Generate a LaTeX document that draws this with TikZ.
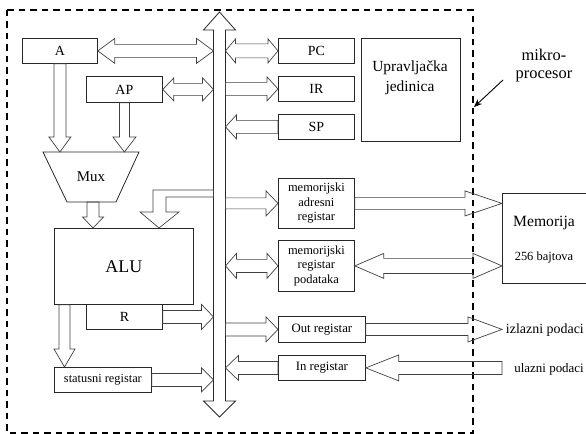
\documentclass[tikz,border=0pt]{standalone}
\usepackage{fontspec}
\setmainfont{Liberation Serif}
\usetikzlibrary{calc,arrows.meta}
\tikzset{
  box/.style={draw=black!85, line width=0.8bp, inner sep=0pt, anchor=north west},
  fat/.style={draw=black!75, line width=0.7bp, line join=miter},
  f14/.style={font=\fontsize{14}{16}\selectfont},
  f12/.style={font=\fontsize{12.5}{14.5}\selectfont, align=center},
}
% horizontal double-headed fat arrow: #1 left pt, #2 right pt, #3 y pt, #4 shaft half, #5 head half, #6 head length
\newcommand\harrB[6]{\draw[fat] let \p1=#1,\p2=#2,\p3=#3 in
  (\x1,\y3) -- (\x1+#6,\y3+#5) -- (\x1+#6,\y3+#4) -- (\x2-#6,\y3+#4) -- (\x2-#6,\y3+#5) -- (\x2,\y3)
  -- (\x2-#6,\y3-#5) -- (\x2-#6,\y3-#4) -- (\x1+#6,\y3-#4) -- (\x1+#6,\y3-#5) -- cycle;}
% pointing right: tail #1, tip #2
\newcommand\harrR[6]{\draw[fat] let \p1=#1,\p2=#2,\p3=#3 in
  (\x1,\y3+#4) -- (\x2-#6,\y3+#4) -- (\x2-#6,\y3+#5) -- (\x2,\y3) -- (\x2-#6,\y3-#5) -- (\x2-#6,\y3-#4) -- (\x1,\y3-#4) -- cycle;}
% pointing left: tip #1, tail #2
\newcommand\harrL[6]{\draw[fat] let \p1=#1,\p2=#2,\p3=#3 in
  (\x2,\y3+#4) -- (\x1+#6,\y3+#4) -- (\x1+#6,\y3+#5) -- (\x1,\y3) -- (\x1+#6,\y3-#5) -- (\x1+#6,\y3-#4) -- (\x2,\y3-#4) -- cycle;}
% pointing down: top #1, tip #2, x #3
\newcommand\varrD[6]{\draw[fat] let \p1=#1,\p2=#2,\p3=#3 in
  (\x3-#4,\y1) -- (\x3-#4,\y2+#6) -- (\x3-#5,\y2+#6) -- (\x3,\y2) -- (\x3+#5,\y2+#6) -- (\x3+#4,\y2+#6) -- (\x3+#4,\y1) -- cycle;}

\begin{document}
\begin{tikzpicture}[x=1bp,y=-1bp]
\useasboundingbox (0,0) rectangle (586,434);

% microprocessor border
\draw[line width=1.2bp, dash pattern=on 6.5bp off 5bp] (7,10) rectangle (473,433);

% boxes
\node[box, minimum width=75bp, minimum height=25bp, f14] (A) at (22,38) {A};
\node[box, minimum width=76bp, minimum height=26bp, f14] (AP) at (86,76) {AP};
\node[box, minimum width=76bp, minimum height=25bp, f14] (PC) at (278,38) {PC};
\node[box, minimum width=76bp, minimum height=25bp, f14] (IR) at (278,76) {IR};
\node[box, minimum width=76bp, minimum height=25bp, f14] (SP) at (278,114) {SP};
\node[box, minimum width=99bp, minimum height=103bp] (CU) at (361,38) {};
\node[font=\fontsize{15.5}{20}\selectfont, align=center] (CUt) at (410,78) {Upravljačka\\jedinica};
\node[box, minimum width=139bp, minimum height=76bp, font=\fontsize{18}{20}\selectfont] (ALU) at (54,228) {ALU};
\node[box, minimum width=76bp, minimum height=25bp, f14] (R) at (86,304) {R};
\node[box, minimum width=97bp, minimum height=25bp, font=\fontsize{12.4}{14}\selectfont] (stat) at (54,367) {statusni registar};
\node[box, minimum width=76bp, minimum height=50bp, f12] (MAR) at (278,178) {memorijski\\adresni\\registar};
\node[box, minimum width=76bp, minimum height=51bp, f12] (MRP) at (278,240) {memorijski\\registar\\podataka};
\node[box, minimum width=87bp, minimum height=26bp, font=\fontsize{12.8}{14}\selectfont] (Out) at (278,316) {Out registar};
\node[box, minimum width=87bp, minimum height=25bp, font=\fontsize{12.8}{14}\selectfont] (In) at (278,355) {In registar};
\node[box, minimum width=90bp, minimum height=90bp] (Mem) at (502,193) {};
\node[font=\fontsize{15.7}{18}\selectfont] (MemT) at (544,223) {Memorija};
\node[font=\fontsize{12.5}{14}\selectfont] (MemS) at (544,258) {256 bajtova};

% Mux
\coordinate (muxTL) at (43,152);
\coordinate (muxTR) at (139,152);
\coordinate (muxBR) at (116,202);
\coordinate (muxBL) at (67,202);
\coordinate (muxB) at (93,202);
\draw[draw=black!85, line width=0.8bp] (muxTL) -- (muxTR) -- (muxBR) -- (muxBL) -- cycle;
\node[font=\fontsize{15}{17}\selectfont] (mux) at (91,177) {Mux};

% bus
\coordinate (busTop) at (219.5,12);
\coordinate (busBot) at (219.5,417);
\coordinate (busL) at (213.5,0);
\coordinate (busR) at (225.5,0);
\draw[fat, draw=black!85, line width=0.8bp] let \p1=(busTop),\p2=(busBot) in
  (\x1,\y1) -- (\x1+16bp,\y1-18bp) -- (\x1+6bp,\y1-18bp) -- (\x1+6bp,\y2+16bp) -- (\x1+16bp,\y2+16bp) -- (\x2,\y2)
  -- (\x1-16bp,\y2+16bp) -- (\x1-6bp,\y2+16bp) -- (\x1-6bp,\y1-18bp) -- (\x1-16bp,\y1-18bp) -- cycle;

% vertical arrows
\varrD{(A.south)}{(muxTL)}{(A.south)}{6bp}{11bp}{15bp}
\varrD{(AP.south)}{(muxTL)}{(AP.south)}{5bp}{11.5bp}{15bp}
\varrD{(muxB)}{(ALU.north)}{(muxB)}{6bp}{10.5bp}{11bp}
\coordinate (aluOut) at ($(ALU.south west)+(10.5,0)$);
\varrD{(aluOut)}{(stat.north)}{(aluOut)}{5.5bp}{10.5bp}{18bp}

% bent arrow bus -> ALU
\coordinate (aluIn) at ($(ALU.north west)+(105,0)$);
\draw[fat] (aluIn) -- ++(-19,-16) -- ++(13,0) -- ++(0,-22) -- ($(busL)+(0,190)$)
  -- ($(busL)+(0,197)$) -- ++(-47.5,0) -- ++(0,15) -- ++(13,0) -- cycle;

% horizontal arrows
\harrB{(A.east)}{(busL)}{(A.east)}{6.5bp}{12.5bp}{17bp}
\harrB{(AP.east)}{(busL)}{(AP.east)}{6bp}{11.5bp}{11bp}
\harrB{(busR)}{(PC.west)}{(PC.west)}{7bp}{12bp}{10bp}
\harrR{(busR)}{(IR.west)}{(IR.west)}{6.5bp}{12bp}{11bp}
\harrL{(busR)}{(SP.west)}{(SP.west)}{6.5bp}{12bp}{11bp}
\harrR{(busR)}{(MAR.west)}{(MAR.west)}{5.5bp}{12.5bp}{12bp}
\harrR{(MAR.east)}{(Mem.west)}{(MAR.east)}{6bp}{12.5bp}{37bp}
\harrB{(busR)}{(MRP.west)}{(MRP.west)}{6.5bp}{12.5bp}{11bp}
\harrB{(MRP.east)}{(Mem.west)}{(MRP.east)}{7.5bp}{12.5bp}{29bp}
\harrR{(R.east)}{(busL)}{(R.east)}{6.5bp}{12.5bp}{12bp}
\harrR{(stat.east)}{(busL)}{(stat.east)}{6.5bp}{12bp}{12bp}
\harrR{(busR)}{(Out.west)}{(Out.west)}{6.5bp}{12.5bp}{12bp}
\harrL{(busR)}{(In.west)}{(In.west)}{6.5bp}{12.5bp}{13bp}

% external I/O
\coordinate (izlTip) at (502,330);
\coordinate (ulTail) at (502,367);
\harrR{(Out.east)}{(izlTip)}{(Out.east)}{6bp}{12.5bp}{34bp}
\harrL{(In.east)}{(ulTail)}{(In.east)}{6.5bp}{13bp}{33bp}
\node[font=\fontsize{14}{16}\selectfont, anchor=east, inner sep=1bp] (izl) at (585,330) {izlazni podaci};
\node[font=\fontsize{13}{15}\selectfont, anchor=east, inner sep=1bp] (ul) at (585,369) {ulazni podaci};

% mikroprocesor label
\node[font=\fontsize{16.5}{18}\selectfont, align=center] (mp) at (544,66) {mikro-\\procesor};
\coordinate (mpA) at (503,80);
\coordinate (mpB) at (474,107);
\draw[line width=0.9bp, -{Stealth[length=8bp,width=6.5bp]}] (mpA) -- (mpB);
\end{tikzpicture}
\end{document}
